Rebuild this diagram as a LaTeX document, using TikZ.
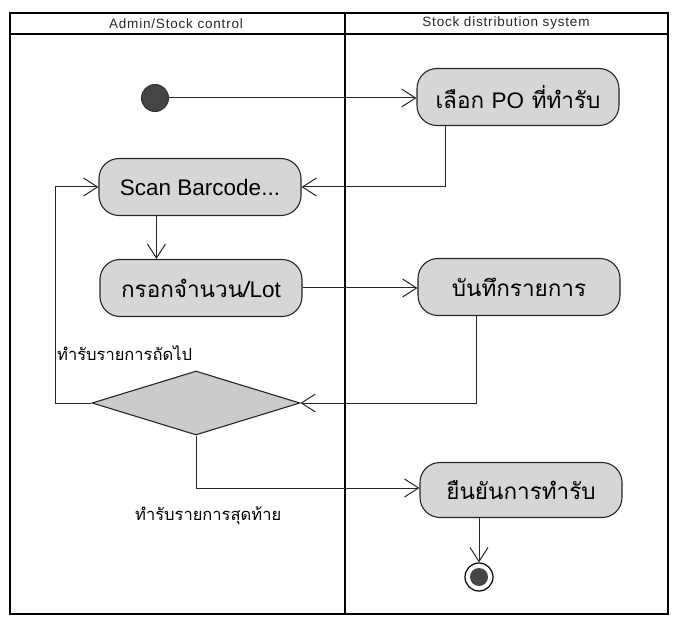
\documentclass[tikz,border=0pt]{standalone}
\usepackage{fontspec}
\setmainfont{Liberation Sans}
\newfontfamily\thaifont[Script=Thai]{Loma}
\newfontfamily\hdrfont[LetterSpace=6]{Liberation Sans}
\usetikzlibrary{arrows.meta,shapes.geometric}
\definecolor{boxfill}{HTML}{D6D6D6}
\definecolor{dmdfill}{HTML}{CBCBCB}
\definecolor{dotfill}{HTML}{454545}
\tikzset{
  lane/.style={line width=1.6pt,draw=black},
  act/.style={draw=black!85,line width=1.1pt,fill=boxfill,rounded corners=20pt,
    minimum width=202pt,minimum height=57pt,inner sep=0pt,
    font=\thaifont\fontsize{22.5}{26}\selectfont},
  dec/.style={diamond,draw=black!85,line width=1.1pt,fill=dmdfill,
    minimum width=208pt,minimum height=64pt,inner sep=0pt},
  arr/.style={draw=black!85,line width=1pt,-{Straight Barb[length=14pt,width=18pt,line width=1pt]}},
  hdr/.style={font=\hdrfont\fontsize{13.5}{15}\selectfont,text=black!85},
  glabel/.style={font=\thaifont\fontsize{16.5}{19}\selectfont,anchor=west,inner sep=0pt},
}
\begin{document}
\begin{tikzpicture}[x=1pt,y=-1pt]
\useasboundingbox (0,0) rectangle (675,620);
% swimlane frame
\draw[lane] (10,13) rectangle (668,614);
\draw[lane] (10,34) -- (668,34);
\draw[lane] (345,13) -- (345,614);
\node[hdr] (h1) at (176,23.5) {Admin/Stock control};
\node[hdr] (h2) at (506,23.5) {Stock distribution system};
% nodes
\node[circle,draw=black!80,line width=1pt,fill=dotfill,minimum size=27pt,inner sep=0pt] (start) at (155,98) {};
\node[act] (po) at (518,97) {เลือก {\fontspec{Liberation Sans}PO} ที่ทำรับ};
\node[act] (scan) at (200,187) {\fontspec{Liberation Sans}Scan Barcode...};
\node[act] (krok) at (201,288) {กรอกจำนวน/{\fontspec{Liberation Sans}Lot}};
\node[act] (ban) at (519,287) {บันทึกรายการ};
\node[dec] (dec) at (196,403) {};
\node[act,minimum height=55pt] (yuen) at (521,490) {ยืนยันการทำรับ};
\node[circle,draw=black,line width=1.2pt,fill=white,minimum size=28pt,inner sep=0pt] (endo) at (479,577) {};
\node[circle,fill=dotfill,minimum size=18pt,inner sep=0pt] (endi) at (479,577) {};
% guard labels
\node[glabel] (g1) at (57,353) {ทำรับรายการถัดไป};
\node[glabel] (g2) at (135,516) {ทำรับรายการสุดท้าย};
% connectors
\draw[arr] (start.east) -- (po.west |- start.east);
\draw[arr] ([xshift=29pt]po.south west) |- (scan.east);
\coordinate (sk) at ([xshift=58pt]scan.south west);
\draw[arr] (sk) -- (sk |- krok.north);
\draw[arr] (krok.east) -- (ban.west |- krok.east);
\draw[arr] ([xshift=59pt]ban.south west) |- (dec.east);
\coordinate (loopx) at (55,403);
\draw[arr] (dec.west) -- (loopx) |- (scan.west);
\draw[arr] (dec.south) |- ([yshift=2pt]yuen.west);
\draw[arr] (endo.north |- yuen.south) -- (endo.north);
\end{tikzpicture}
\end{document}
